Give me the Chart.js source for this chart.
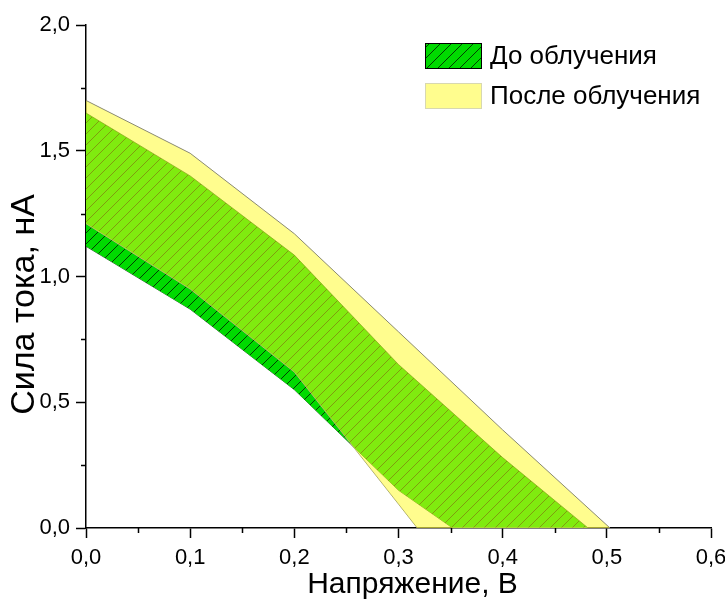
<!DOCTYPE html>
<html>
<head>
<meta charset="utf-8">
<script src="https://cdn.jsdelivr.net/npm/chart.js@4.4.0/dist/chart.umd.min.js"></script>
<style>
  html, body { margin: 0; padding: 0; background: #fff; }
  #wrap { width: 725px; height: 606px; }
</style>
</head>
<body>
<div id="wrap"><canvas id="ivChart"></canvas></div>
<script>
// До облучения: верхняя и нижняя граница полосы
var beforeUpperX = [0, 0.1, 0.2, 0.3, 0.4, 0.482];
var beforeUpperY = [1.65, 1.40, 1.085, 0.65, 0.28, 0];
var beforeLowerX = [0, 0.1, 0.2, 0.3, 0.352, 0.482];
var beforeLowerY = [1.12, 0.87, 0.55, 0.15, 0, 0];
// После облучения
var afterUpperX = [0, 0.1, 0.2, 0.3, 0.4, 0.503];
var afterUpperY = [1.70, 1.49, 1.17, 0.78, 0.39, 0];
var afterLowerX = [0, 0.1, 0.2, 0.3, 0.318, 0.503];
var afterLowerY = [1.21, 0.95, 0.62, 0.095, 0, 0];

var seriesLabels = ['До облучения', 'После облучения'];
var axisTitles = ['Напряжение, В', 'Сила тока, нА'];
var xTickLabels = ['0,0', '0,1', '0,2', '0,3', '0,4', '0,5', '0,6'];
var yTickLabels = ['0,0', '0,5', '1,0', '1,5', '2,0'];
var xMinorTicks = [0.05, 0.15, 0.25, 0.35, 0.45, 0.55];
var yMinorTicks = [0.25, 0.75, 1.25, 1.75];

var FONT = 'Liberation Sans, Arial, sans-serif';
var GREEN = 'rgb(0, 218, 0)';
var YELLOW = 'rgba(255, 252, 30, 0.5)';

function pts(xs, ys) {
  return xs.map(function (x, i) { return { x: x, y: ys[i] }; });
}

// штриховка "/" без сглаживания
function hatch(bg, line) {
  var s = 11;
  var c = document.createElement('canvas');
  c.width = s; c.height = s;
  var g = c.getContext('2d');
  g.fillStyle = bg;
  g.fillRect(0, 0, s, s);
  g.fillStyle = line;
  for (var i = 0; i < s; i++) g.fillRect(i, s - 1 - i, 1, 1);
  return g.createPattern(c, 'repeat');
}
var greenHatch = hatch(GREEN, 'rgba(0, 45, 0, 0.9)');

var minorTicks = {
  id: 'minorTicks',
  afterDraw: function (chart) {
    var ctx = chart.ctx, xs = chart.scales.x, ys = chart.scales.y;
    ctx.save();
    ctx.strokeStyle = '#000';
    ctx.lineWidth = 1.5;
    ctx.beginPath();
    xMinorTicks.forEach(function (v) {
      var px = Math.round(xs.getPixelForValue(v)) + 0.5;
      ctx.moveTo(px, xs.top); ctx.lineTo(px, xs.top + 5);
    });
    yMinorTicks.forEach(function (v) {
      var py = Math.round(ys.getPixelForValue(v)) + 0.5;
      ctx.moveTo(ys.right, py); ctx.lineTo(ys.right - 5, py);
    });
    ctx.stroke();
    ctx.restore();
  }
};

// подписи осей (в оригинале немного смещены от центра)
var axisTitlePlugin = {
  id: 'axisTitlePlugin',
  afterDraw: function (chart) {
    var ctx = chart.ctx, a = chart.chartArea;
    ctx.save();
    ctx.fillStyle = '#000';
    ctx.textAlign = 'center';
    ctx.textBaseline = 'middle';
    ctx.font = '30px ' + FONT;
    ctx.fillText(axisTitles[0], (a.left + a.right) / 2 + 14, 585);
    ctx.translate(25, (a.top + a.bottom) / 2 + 28);
    ctx.rotate(-Math.PI / 2);
    ctx.font = '34px ' + FONT;
    ctx.fillText(axisTitles[1], 0, 0);
    ctx.restore();
  }
};

var boxLegend = {
  id: 'boxLegend',
  afterDraw: function (chart) {
    var ctx = chart.ctx;
    var left = 425, w = 57, h = 26;
    var rows = [
      { top: 43, fill: greenHatch, stroke: '#000', text: seriesLabels[0] },
      { top: 83, fill: 'rgb(255, 253, 142)', stroke: '#d8d8b0', text: seriesLabels[1] }
    ];
    ctx.save();
    rows.forEach(function (r) {
      ctx.fillStyle = r.fill;
      ctx.fillRect(left, r.top, w, h);
      ctx.strokeStyle = r.stroke;
      ctx.lineWidth = 1;
      ctx.strokeRect(left + 0.5, r.top + 0.5, w - 1, h - 1);
      ctx.fillStyle = '#000';
      ctx.font = '26px ' + FONT;
      ctx.textBaseline = 'middle';
      ctx.fillText(r.text, left + w + 8, r.top + h / 2 + 1);
    });
    ctx.restore();
  }
};

var ctx = document.getElementById('ivChart').getContext('2d');
new Chart(ctx, {
  type: 'line',
  data: {
    datasets: [
      { label: seriesLabels[1], data: pts(afterUpperX, afterUpperY), fill: 1,
        backgroundColor: YELLOW, borderColor: '#8a8a70', borderWidth: 1, order: 0 },
      { label: seriesLabels[1], data: pts(afterLowerX, afterLowerY), fill: false,
        borderColor: '#a0a080', borderWidth: 1, order: 0 },
      { label: seriesLabels[0], data: pts(beforeUpperX, beforeUpperY), fill: 3,
        backgroundColor: greenHatch, borderColor: 'rgba(0, 60, 0, 0.8)', borderWidth: 0.8, order: 1 },
      { label: seriesLabels[0], data: pts(beforeLowerX, beforeLowerY), fill: false,
        borderColor: 'rgba(0, 40, 0, 0.9)', borderWidth: 0.8, order: 1 }
    ]
  },
  options: {
    responsive: true,
    maintainAspectRatio: false,
    animation: false,
    layout: { padding: { top: 25, right: 14, left: 0, bottom: 0 } },
    elements: { point: { radius: 0 }, line: { tension: 0 } },
    plugins: { legend: { display: false }, tooltip: { enabled: false } },
    scales: {
      x: {
        type: 'linear', min: 0, max: 0.6,
        afterFit: function (s) { s.height = 78; s.paddingRight = 0; s.paddingLeft = 0; },
        ticks: {
          stepSize: 0.1, color: '#000', padding: 7,
          font: { family: FONT, size: 22 },
          callback: function (v, i) { return xTickLabels[i]; }
        },
        grid: { drawOnChartArea: false, drawTicks: true, tickLength: 10, tickColor: '#000', tickWidth: 1.5 },
        border: { display: true, color: '#000', width: 1.5 },
        title: { display: false }
      },
      y: {
        type: 'linear', min: 0, max: 2,
        afterFit: function (s) { s.width = 86; s.paddingTop = 0; s.paddingBottom = 0; },
        ticks: {
          stepSize: 0.5, color: '#000', padding: 6,
          font: { family: FONT, size: 22 },
          callback: function (v, i) { return yTickLabels[i]; }
        },
        grid: { drawOnChartArea: false, drawTicks: true, tickLength: 10, tickColor: '#000', tickWidth: 1.5 },
        border: { display: true, color: '#000', width: 1.5 },
        title: { display: false }
      }
    }
  },
  plugins: [minorTicks, axisTitlePlugin, boxLegend]
});
</script>
</body>
</html>
